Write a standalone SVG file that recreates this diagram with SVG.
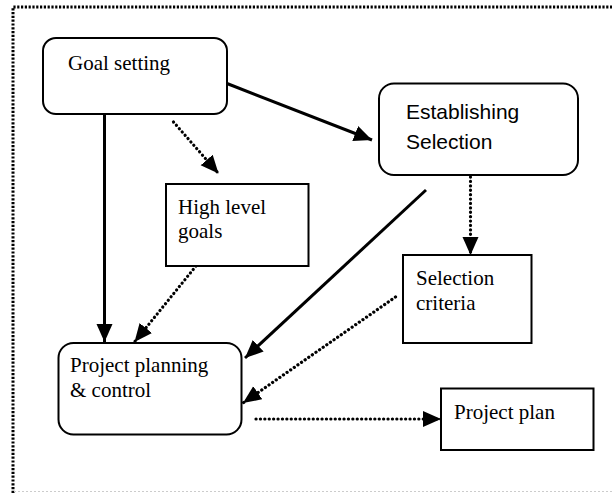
<svg xmlns="http://www.w3.org/2000/svg" width="612" height="493" viewBox="0 0 612 493">
<style>
.box{fill:#fff;stroke:#000;stroke-width:2}
.serif{font-family:"Liberation Serif","Times New Roman",serif;font-size:21px;fill:#000}
.sans{font-family:"Liberation Sans",Arial,sans-serif;font-size:21px;fill:#000}
.solid{stroke:#000;stroke-width:3;fill:none}
.dot{stroke:#000;stroke-width:3.2;fill:none;stroke-linecap:round;stroke-dasharray:0.1 4.3}
</style>
<defs>
<marker id="ah" markerUnits="userSpaceOnUse" markerWidth="20" markerHeight="18" refX="18" refY="8" orient="auto">
<path d="M0,0 L18,8 L0,16 z" fill="#000"/>
</marker>
</defs>
<rect width="612" height="493" fill="#fff"/>
<g id="frame">
<path d="M13,493 L13,7 L612,7" fill="none" stroke="#000" stroke-width="3" stroke-dasharray="2.2 1.6"/>
<path d="M14,491.5 L612,491.5" fill="none" stroke="#ccc" stroke-width="1" stroke-dasharray="2 2"/>
</g>
<g id="connectors">
<line class="solid" x1="227" y1="83.5" x2="372" y2="140" marker-end="url(#ah)"/>
<line class="solid" x1="104.5" y1="114" x2="104.5" y2="342" marker-end="url(#ah)"/>
<line class="dot" x1="173.5" y1="122" x2="218.5" y2="173.5" marker-end="url(#ah)"/>
<line class="dot" x1="196" y1="266" x2="134.5" y2="342" marker-end="url(#ah)"/>
<line class="solid" x1="426" y1="190" x2="245" y2="358" marker-end="url(#ah)"/>
<line class="dot" x1="470.5" y1="177" x2="470.5" y2="255" marker-end="url(#ah)"/>
<line class="dot" x1="395.5" y1="297" x2="243" y2="403" marker-end="url(#ah)"/>
<line class="dot" x1="256" y1="419" x2="441" y2="419" marker-end="url(#ah)"/>
</g>
<g id="goal-setting">
<rect class="box" x="43" y="38" width="184" height="76" rx="13"/>
<text class="serif" x="68" y="70">Goal setting</text>
</g>
<g id="establishing-selection">
<rect class="box" x="379" y="83.5" width="199" height="91.5" rx="15"/>
<text class="sans" x="406" y="119">Establishing</text>
<text class="sans" x="406" y="149">Selection</text>
</g>
<g id="high-level-goals">
<rect class="box" x="166" y="184" width="142.5" height="82"/>
<text class="serif" x="178" y="214">High level</text>
<text class="serif" x="178" y="238">goals</text>
</g>
<g id="selection-criteria">
<rect class="box" x="403" y="255" width="128.5" height="88"/>
<text class="serif" x="416" y="285">Selection</text>
<text class="serif" x="416" y="309.5">criteria</text>
</g>
<g id="project-planning">
<rect class="box" x="58.5" y="343" width="183" height="91.5" rx="15"/>
<text class="serif" x="70" y="372">Project planning</text>
<text class="serif" x="70" y="396.5">&amp; control</text>
</g>
<g id="project-plan">
<rect class="box" x="441" y="388.5" width="152.5" height="61.5"/>
<text class="serif" x="454" y="419">Project plan</text>
</g>
</svg>
